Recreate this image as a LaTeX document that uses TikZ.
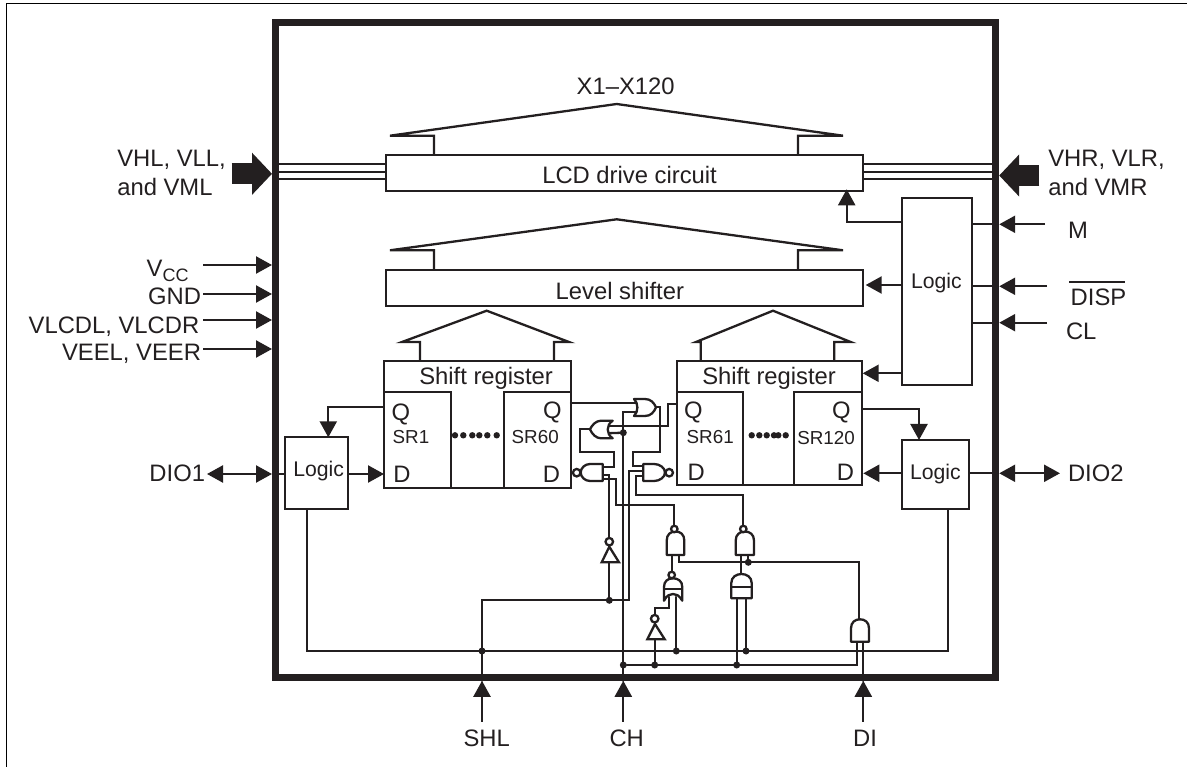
\documentclass[tikz,border=0pt]{standalone}
\usepackage{fontspec}
\setmainfont{Liberation Sans}
\usetikzlibrary{arrows.meta}
\definecolor{ink}{HTML}{231F20}
\newcommand\ugate[4]{\draw[gate] ({#1},{#4}) -- ({#1},{#3+9}) .. controls ({#1},{#3+3}) and ({(#1+#2)/2-5},{#3}) .. ({(#1+#2)/2},{#3}) .. controls ({(#1+#2)/2+5},{#3}) and ({#2},{#3+3}) .. ({#2},{#3+9}) -- ({#2},{#4}) -- cycle;}
\tikzset{
  wire/.style={ink,line width=2.3pt,line cap=round,line join=miter},
  gate/.style={ink,line width=2.3pt,fill=white,line join=round},
  box/.style={draw=ink,line width=2.3pt,inner sep=0pt,outer sep=0pt,fill=white},
  hat/.style={ink,line width=2.3pt,line join=miter},
  tri/.style={-{Triangle[length=16pt,width=17pt]}},
  tritri/.style={{Triangle[length=16pt,width=17pt]}-{Triangle[length=16pt,width=17pt]}},
  bigarrow/.style={ink,line width=21pt,-{Triangle[length=20pt,width=41pt]}},
  dot/.style={circle,fill=ink,inner sep=0pt,outer sep=0pt,minimum size=7pt},
  bub/.style={circle,draw=ink,line width=2.3pt,fill=white,inner sep=0pt,outer sep=0pt,minimum size=#1},
  bub/.default=7.5pt,
  tiny dot/.style={circle,fill=ink,inner sep=0pt,minimum size=6.4pt},
  t/.style={text=ink,inner sep=0pt,outer sep=0pt,anchor=base west,font=\fontsize{23.8}{23.8}\selectfont},
  tr/.style={t,anchor=base east},
  tc/.style={t,anchor=base},
  ts/.style={t,font=\fontsize{18.8}{18.8}\selectfont},
  tl/.style={t,font=\fontsize{21.2}{21.2}\selectfont},
}
\begin{document}
\begin{tikzpicture}[x=1pt,y=-1pt]
\useasboundingbox (0,0) rectangle (1187,767);
\draw[black,line width=1pt] (6.5,767) -- (6.5,3.5) -- (1187,3.5);

% package outline
\node[draw=ink,line width=7pt,inner sep=0pt,outer sep=3.5pt,minimum width=720.2pt,minimum height=654.3pt] (chip) at (635.6,350.15) {};

% blocks
\node[box,minimum width=477pt,minimum height=36pt] (lcd) at (624.5,173) {};
\node[box,minimum width=477pt,minimum height=36pt] (lvl) at (624.5,288) {};
\node[box,minimum width=187pt,minimum height=126.7pt] (srA) at (477.5,424.35) {};
\node[box,minimum width=185pt,minimum height=124pt] (srB) at (769.2,423) {};
\node[box,minimum width=70pt,minimum height=186.7pt] (logT) at (936.7,291.65) {};
\node[box,minimum width=63.3pt,minimum height=72pt] (logL) at (316.65,473.3) {};
\node[box,minimum width=67pt,minimum height=69.3pt] (logR) at (935.5,474.65) {};

% register cells
\draw[wire,line cap=butt] (384,392.3) -- (451,392.3) -- (451,487.7);
\draw[wire,line cap=butt] (504,487.7) -- (504,392.3) -- (571,392.3);
\draw[wire,line cap=butt] (676.7,392.3) -- (743.3,392.3) -- (743.3,485);
\draw[wire,line cap=butt] (794,485) -- (794,392.3) -- (861.7,392.3);
\foreach \i/\x in {1/455,2/463.3,3/472.3,4/479.3,5/487.3,6/496.7}
  \node[tiny dot] (da\i) at (\x,435.3) {};
\foreach \i/\x in {1/751.7,2/759.3,3/766.7,4/774,5/778.3,6/785.7}
  \node[tiny dot] (db\i) at (\x,435.3) {};

% output fans
\draw[hat] (434,0 |- lcd.north) -- (434,135.7) -- (390,135.7) -- (616.7,104) -- (843,135.7) -- (798,135.7) -- (798,0 |- lcd.north);
\draw[hat] (434,0 |- lvl.north) -- (434,250.3) -- (390,250.3) -- (616.7,219.3) -- (843,250.3) -- (798,250.3) -- (798,0 |- lvl.north);
\draw[hat] (420,0 |- srA.north) -- (420,342) -- (402,342) -- (486.7,310.7) -- (569,342) -- (554,342) -- (554,0 |- srA.north);
\draw[hat] (700.7,0 |- srB.north) -- (700.7,342) -- (696,342) -- (773,310.7) -- (850.7,342) -- (834.3,342) -- (834.3,0 |- srB.north);

% triple rails
\foreach \y in {164.3,172,179.3}{
  \draw[ink,line width=2.3pt] (chip.west |- 0,\y) -- (lcd.west |- 0,\y);
  \draw[ink,line width=2.3pt] (lcd.east |- 0,\y) -- (chip.east |- 0,\y);
}
\coordinate (hvl) at (231.7,173.8);
\coordinate (hvr) at (1039.3,175.5);
\draw[bigarrow] (hvl) -- (chip.west |- hvl);
\draw[bigarrow] (hvr) -- (chip.east |- hvr);

% left supply inputs
\foreach \n/\y in {vcc/265,gnd/294,vlc/320,vee/349}{
  \coordinate (\n) at (203.3,\y);
  \draw[wire,tri,line cap=butt] (\n) -- (chip.west |- \n);
}
% right control inputs
\coordinate (mI) at (1045,224.3);
\coordinate (dI) at (1047,286.3);
\coordinate (cI) at (1047,322.7);
\foreach \n in {mI,dI,cI}{
  \draw[wire,tri,line cap=butt] (\n) -- (chip.east |- \n);
  \draw[wire,line cap=butt] (logT.east |- \n) -- (chip.east |- \n);
}
% logic to blocks
\draw[wire,tri,line cap=butt] (logT.west |- 0,221.7) -| ([yshift=1.7pt]lcd.south -| 846.7,0);
\draw[wire,tri,line cap=butt] (logT.west |- 0,285) -- ([xshift=2.7pt]lvl.east |- 0,285);
\draw[wire,tri,line cap=butt] (logT.west |- 0,373.3) -- ([xshift=1pt]srB.east |- 0,373.3);
% side logic
\draw[wire,tri,line cap=butt] (srA.west |- 0,406.7) -| (328.3,0 |- logL.north);
\draw[wire,tri,line cap=butt] (logL.east |- 0,474) -- (srA.west |- 0,474);
\draw[wire,tri,line cap=butt] (srB.east |- 0,409) -| (919,0 |- logR.north);
\draw[wire,tri,line cap=butt] (logR.west |- 0,473.3) -- ([xshift=1.6pt]srB.east |- 0,473.3);
\coordinate (dio1) at (207,474);
\coordinate (dio2) at (1060,473.3);
\draw[wire,tritri,line cap=butt] (dio1) -- (chip.west |- dio1);
\draw[wire,tritri,line cap=butt] (dio2) -- (chip.east |- dio2);
\draw[wire,line cap=butt] (chip.west |- dio1) -- (logL.west |- dio1);
\draw[wire,line cap=butt] (logR.east |- dio2) -- (chip.east |- dio2);

% bottom inputs
\coordinate (shl) at (482,721.7);
\coordinate (ch) at (623.3,721.7);
\coordinate (di) at (863.3,721.7);
\foreach \n in {shl,ch,di}
  \draw[wire,tri,line cap=butt] (\n) -- (chip.south -| \n);

% junctions
\node[dot] (jS) at (482,651) {};
\node[dot] (jI) at (609.3,600.3) {};
\node[dot] (jC) at (623.3,432.7) {};
\node[dot] (jB) at (623.3,665) {};
\node[dot] (jN) at (654.7,665) {};
\node[dot] (jA) at (736.7,665) {};
\node[dot] (jX) at (676.3,651) {};
\node[dot] (jY) at (746,651) {};
\node[dot] (jZ) at (748.3,562.3) {};

% buses
\draw[wire] (306.7,0 |- logL.south) |- (947.7,651) -- (947.7,0 |- logR.south);
\draw[wire] (jB) -- (857.3,665) -- (857.3,641.7);
\draw[wire] (chip.south -| di) -- (863.3,641.7);
\draw[wire] (chip.south -| shl) -- (482,600.3) -- (629.3,600.3) -- (629.3,470.7) -- (643.3,470.7);
\draw[wire] (chip.south -| ch) -- (623.3,411.7) -- (636,411.7);
\draw[wire] (jC) -- (606,433.3);
\draw[wire] (606,426) -- (668.3,426) -- (668.3,404) -- (srB.west |- 0,404);
\draw[wire] (srA.east |- 0,403.3) -- (636,403.3);
\draw[wire] (656,407.3) -- (660,407.3) -- (660,451.7) -- (633.3,451.7) -- (633.3,465.7) -- (643.3,465.7);
\draw[wire] (590,429.3) -- (580,429.3) -- (580,451.7) -- (614,451.7) -- (614,466.7) -- (602.7,466.7);
\draw[wire] (602.7,475) -- (609.3,475) -- (jI);
\draw[wire] (602.7,479) -- (616,479) -- (616,504.7) -- (674.3,504.7) -- (674.3,526);
\draw[wire] (643.3,476) -- (635.7,476) -- (635.7,495.3) -- (743.3,495.3) -- (743.3,526);
\draw[wire] (671.7,555) -- (671.7,572);
\draw[wire] (740.7,555) -- (740.7,574);
\draw[wire] (679,555) -- (679,562.3) -- (859,562.3) -- (859,619.3);
\draw[wire] (748.3,555) -- (jZ);
\draw[wire] (669.3,597) -- (669.3,607.7) -- (654.7,607.7) -- (654.7,615);
\draw[wire] (654.7,639.3) -- (jN);
\draw[wire] (676.3,597) -- (jX);
\draw[wire] (736.7,598.3) -- (jA);
\draw[wire] (746,598.3) -- (jY);

% gates, horizontal
\draw[gate] (634,399) -- (645,399) .. controls (651,399) and (654,403) .. (656,407.3) .. controls (654,412) and (651,416) .. (645,416) -- (634,416) .. controls (638.5,412) and (638.5,403) .. (634,399) -- cycle;
\draw[gate] (612.7,420.7) -- (601,420.7) .. controls (596,420.7) and (592,425) .. (590,429.3) .. controls (592,434) and (596,438.3) .. (601,438.3) -- (612.7,438.3) .. controls (606,434) and (606,425) .. (612.7,420.7) -- cycle;
\draw[gate] (602.7,464) -- (590,464) .. controls (585,464) and (580.7,468) .. (580.7,472.5) .. controls (580.7,477) and (585,481) .. (590,481) -- (602.7,481) -- cycle;
\draw[gate] (643.3,464) -- (654,464) .. controls (660,464) and (665,468) .. (665,472.5) .. controls (665,477) and (660,481) .. (654,481) -- (643.3,481) -- cycle;
\node[bub] (bL) at (576.7,472.7) {};
\node[bub] (bR) at (669.2,472.7) {};
% gates, vertical
\ugate{666.7}{684.3}{531.5}{555}
\ugate{735.7}{754}{531.5}{555}
\ugate{851}{869}{619.3}{641.7}
\ugate{731.3}{751.7}{574}{598.3}
\draw[wire,line cap=butt] (731.3,587.3) -- (751.7,587.3);
\draw[gate] (664,600.7) -- (664,587) .. controls (664,581) and (668,578.3) .. (673,578.3) .. controls (678,578.3) and (682.3,581) .. (682.3,587) -- (682.3,600.7) .. controls (679,595) and (676,594) .. (673,594) .. controls (670,594) and (667,595) .. (664,600.7) -- cycle;
\draw[wire,line cap=butt] (664,589.3) -- (682.3,589.3);
\node[bub=6.5pt] (bA) at (674.3,529) {};
\node[bub=6.5pt] (bB) at (743.3,529) {};
\node[bub=6.5pt] (bC) at (671.7,575) {};
% inverters
\draw[gate,line join=miter] (609.3,546.7) -- (619,562.3) -- (601.7,562.3) -- cycle;
\node[bub] (bI) at (609.3,541.7) {};
\draw[gate,line join=miter] (655,624) -- (664.7,639.3) -- (647.3,639.3) -- cycle;
\node[bub] (bJ) at (654.7,618.7) {};

% labels
\node[t] (tx) at (576.7,95) {X1–X120};
\node[t] (tlcd) at (542.3,184) {LCD drive circuit};
\node[t] (tlvl) at (555.7,300) {Level shifter};
\node[t] (tsra) at (419.3,385) {Shift register};
\node[t] (tsrb) at (702.3,385) {Shift register};
\node[t] (qa) at (391.7,420.7) {Q};
\node[t] (da) at (393.3,482.7) {D};
\node[tr] (qb) at (561.7,418) {Q};
\node[tr] (db) at (560,482.7) {D};
\node[t] (qc) at (684,419) {Q};
\node[t] (dc) at (687.7,480.7) {D};
\node[tr] (qd) at (850.7,419) {Q};
\node[tr] (dd) at (854,480.7) {D};
\node[ts] (s1) at (392.7,443.3) {SR1};
\node[ts] (s60) at (511.7,443.3) {SR60};
\node[ts] (s61) at (686.7,443.3) {SR61};
\node[ts] (s120) at (797.3,445) {SR120};
\node[tl] (lgT) at (911,289) {Logic};
\node[tl] (lgL) at (293.3,476) {Logic};
\node[tl] (lgR) at (910,479.3) {Logic};
\node[t] (h1) at (117.3,167) {VHL, VLL,};
\node[t] (h2) at (117.3,195.7) {and VML};
\node[t] (h3) at (1048.3,167) {VHR, VLR,};
\node[t] (h4) at (1048.3,195.7) {and VMR};
\node[t] (tvcc) at (146.7,276.7) {V\raisebox{-5pt}{\fontsize{18}{18}\selectfont CC}};
\node[tr] (tgnd) at (201,305) {GND};
\node[tr] (tvlc) at (199.3,334) {VLCDL, VLCDR};
\node[tr] (tvee) at (201,360.7) {VEEL, VEER};
\node[t] (tm) at (1068,238.3) {M};
\node[t] (tdisp) at (1070.7,305.7) {\rlap{\hspace{-1.5pt}\raisebox{23pt}{\rule{56pt}{1.2pt}}}DISP};
\node[t] (tcl) at (1066,339.3) {CL};
\node[tr] (tdio1) at (205,482) {DIO1};
\node[t] (tdio2) at (1068,482) {DIO2};
\node[tc] (tshl) at (486.7,746.7) {SHL};
\node[tc] (tch) at (626.7,746.7) {CH};
\node[tc] (tdi) at (865,746.7) {DI};
\end{tikzpicture}
\end{document}
